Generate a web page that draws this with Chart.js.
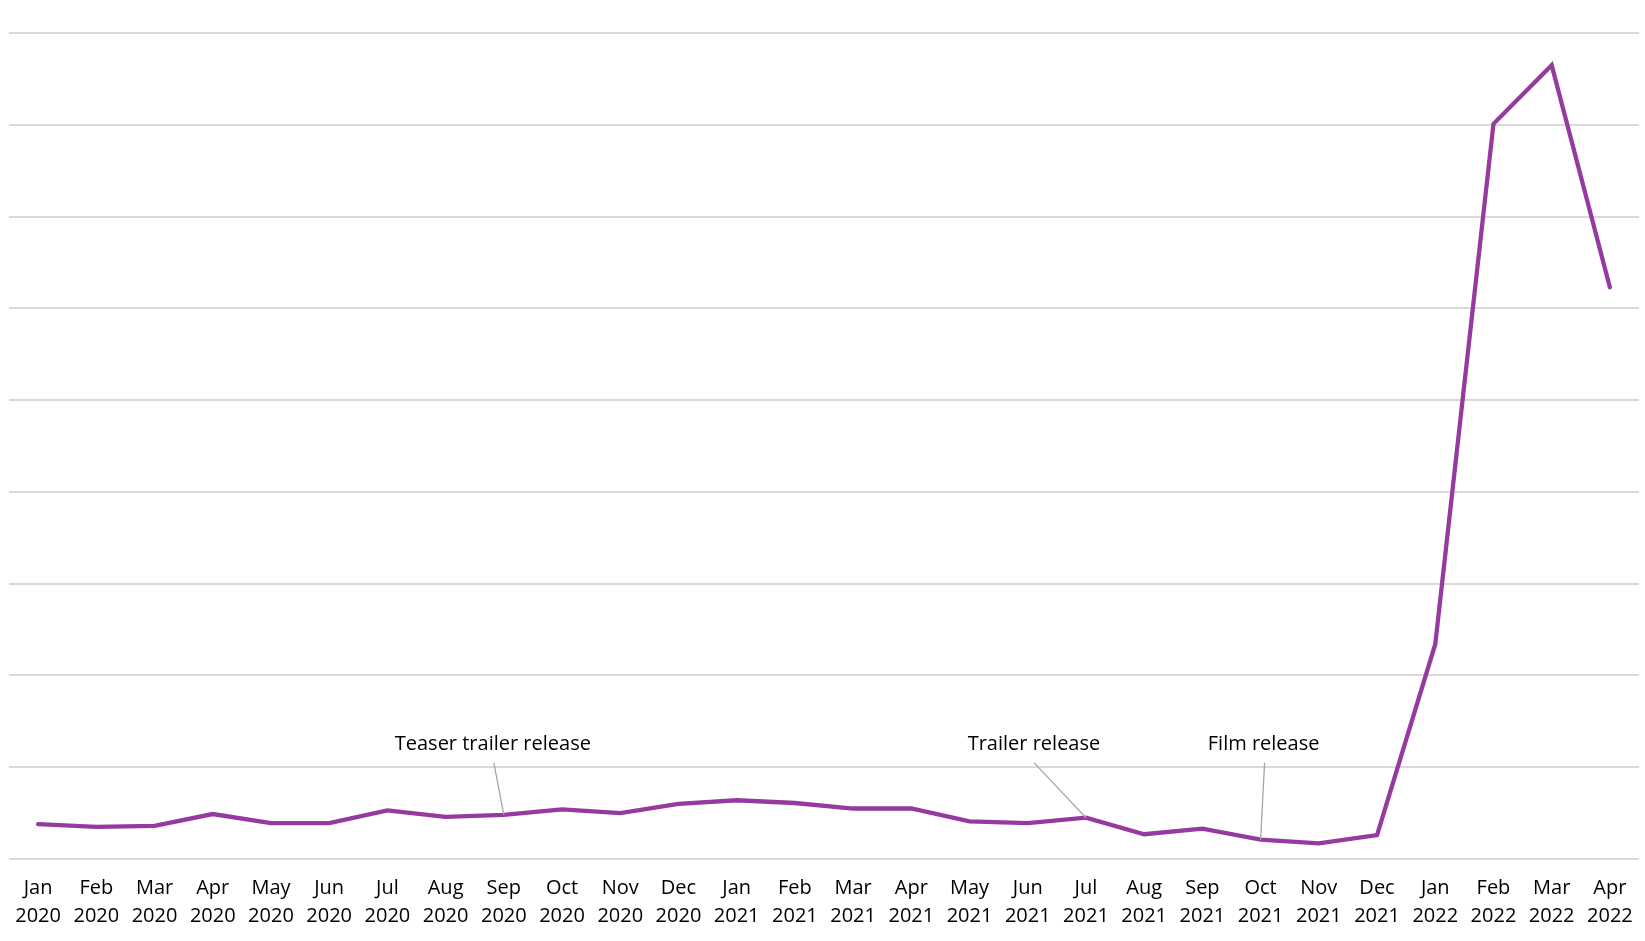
<!DOCTYPE html>
<html>
<head>
<meta charset="utf-8">
<title>Monthly interest</title>
<script src="https://cdn.jsdelivr.net/npm/chart.js@4.4.1/dist/chart.umd.min.js"></script>
<style>
  html, body { margin: 0; padding: 0; background: #fff; }
  #wrap { width: 1645px; height: 941px; position: relative; }
</style>
</head>
<body>
<div id="wrap"><canvas id="chart"></canvas></div>
<script>
// months and years shown under each point
const months = ['Jan', 'Feb', 'Mar', 'Apr', 'May', 'Jun', 'Jul', 'Aug', 'Sep', 'Oct', 'Nov', 'Dec',
  'Jan', 'Feb', 'Mar', 'Apr', 'May', 'Jun', 'Jul', 'Aug', 'Sep', 'Oct', 'Nov', 'Dec',
  'Jan', 'Feb', 'Mar', 'Apr'];
const years = ['2020', '2020', '2020', '2020', '2020', '2020', '2020', '2020', '2020', '2020', '2020', '2020',
  '2021', '2021', '2021', '2021', '2021', '2021', '2021', '2021', '2021', '2021', '2021', '2021',
  '2022', '2022', '2022', '2022'];

// values (no axis labels, arbitrary units)
const interest = [3.8, 3.5, 3.6, 4.9, 3.9, 3.9, 5.3, 4.6, 4.8, 5.4, 5.0, 6.0,
  6.4, 6.1, 5.5, 5.5, 4.1, 3.9, 4.5, 2.7, 3.3, 2.1, 1.7, 2.6,
  23.4, 80.1, 86.5, 62.3];

// callout labels and the month they point at
const eventNames = ['Teaser trailer release', 'Trailer release', 'Film release'];
const eventMonths = [8, 18, 21];

const labels = months.map((m, i) => [m, years[i]]);

// draws the callout texts with a thin leader line down to the point
const calloutPlugin = {
  id: 'callouts',
  afterDatasetsDraw(chart, args, opts) {
    const { ctx, scales } = chart;
    ctx.save();
    eventNames.forEach((name, i) => {
      const idx = eventMonths[i];
      const px = scales.x.getPixelForValue(idx);
      const py = scales.y.getPixelForValue(interest[idx]);
      const tx = px + opts.dx[i];
      const ty = scales.y.getPixelForValue(opts.textAt);
      const ly = scales.y.getPixelForValue(opts.lineFrom);
      ctx.strokeStyle = '#a6a6a6';
      ctx.lineWidth = 1.3;
      ctx.beginPath();
      ctx.moveTo(tx + opts.lx[i], ly);
      ctx.lineTo(px, py);
      ctx.stroke();
      ctx.fillStyle = '#000';
      ctx.font = '20px "Open Sans"';
      ctx.textAlign = 'center';
      ctx.textBaseline = 'middle';
      ctx.fillText(name, tx, ty);
    });
    ctx.restore();
  }
};

const canvas = document.getElementById('chart');
new Chart(canvas, {
  type: 'line',
  data: {
    labels: labels,
    datasets: [{
      data: interest,
      borderColor: '#953a9f',
      borderWidth: 4.3,
      borderCapStyle: 'round',
      pointRadius: 0,
      tension: 0,
      fill: false
    }]
  },
  options: {
    responsive: true,
    maintainAspectRatio: false,
    animation: false,
    layout: { padding: { left: 9, right: 6, top: 33, bottom: 4 } },
    plugins: {
      legend: { display: false },
      tooltip: { enabled: false },
      callouts: { dx: [-11, -52, 3], lx: [1, 0, 1], textAt: 12.45, lineFrom: 10.5 }
    },
    scales: {
      x: {
        offset: true,
        grid: { display: false },
        border: { display: false },
        ticks: {
          autoSkip: false,
          maxRotation: 0,
          padding: 7,
          color: '#000',
          font: { family: 'Open Sans', size: 20, lineHeight: 1.4 }
        }
      },
      y: {
        min: 0,
        max: 90,
        border: { display: false },
        grid: { color: '#d9d9d9', lineWidth: 2, drawTicks: false },
        ticks: { display: false, stepSize: 10 }
      }
    }
  },
  plugins: [calloutPlugin]
});
</script>
</body>
</html>
